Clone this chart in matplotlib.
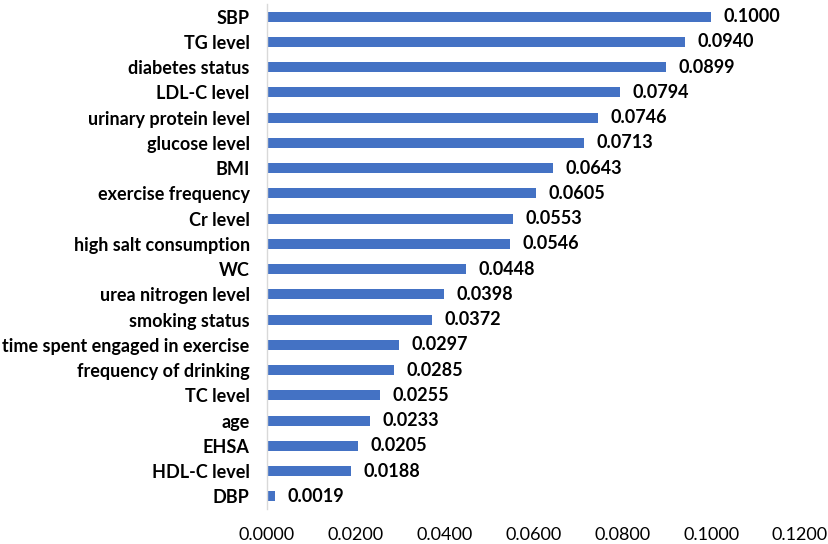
import matplotlib
matplotlib.use("Agg")
import matplotlib.pyplot as plt

categories = ["SBP", "TG level", "diabetes status", "LDL-C level", "urinary protein level",
              "glucose level", "BMI", "exercise frequency", "Cr level", "high salt consumption",
              "WC", "urea nitrogen level", "smoking status", "time spent engaged in exercise",
              "frequency of drinking", "TC level", "age", "EHSA", "HDL-C level", "DBP"]
values = [0.1000, 0.0940, 0.0899, 0.0794, 0.0746, 0.0713, 0.0643, 0.0605, 0.0553, 0.0546,
          0.0448, 0.0398, 0.0372, 0.0297, 0.0285, 0.0255, 0.0233, 0.0205, 0.0188, 0.0019]
xticks = [0.0, 0.02, 0.04, 0.06, 0.08, 0.10, 0.12]

plt.rcParams['font.family'] = ['Lato', 'DejaVu Sans']

fig = plt.figure(figsize=(8.29, 5.44), dpi=100)
left = 267 / 829
right = 800 / 829
ax = fig.add_axes([left, 0.0643, right - left, 0.9926 - 0.0643])

y = list(range(len(categories)))
ax.barh(y, values, height=0.4, color="#4472C4")
ax.set_ylim(len(categories) - 0.5, -0.5)
ax.set_xlim(0, 0.12)
ax.set_yticks(y)
ax.set_yticklabels(categories, fontsize=13, fontweight='bold')
ax.set_xticks(xticks)
ax.set_xticklabels([f"{t:.4f}" for t in xticks], fontsize=13)
ax.tick_params(axis='both', length=0)
ax.tick_params(axis='y', pad=12.5)
ax.tick_params(axis='x', pad=13)
for s in ['top', 'right', 'bottom']:
    ax.spines[s].set_visible(False)
ax.spines['left'].set_color('#D9D9D9')
ax.spines['left'].set_linewidth(1)

for yi, v in zip(y, values):
    ax.annotate(f"{v:.4f}", xy=(v, yi), xytext=(9, 0), textcoords='offset points',
                va='center', ha='left', fontsize=13, fontweight='bold')

fig.savefig("out.png", dpi=100)
